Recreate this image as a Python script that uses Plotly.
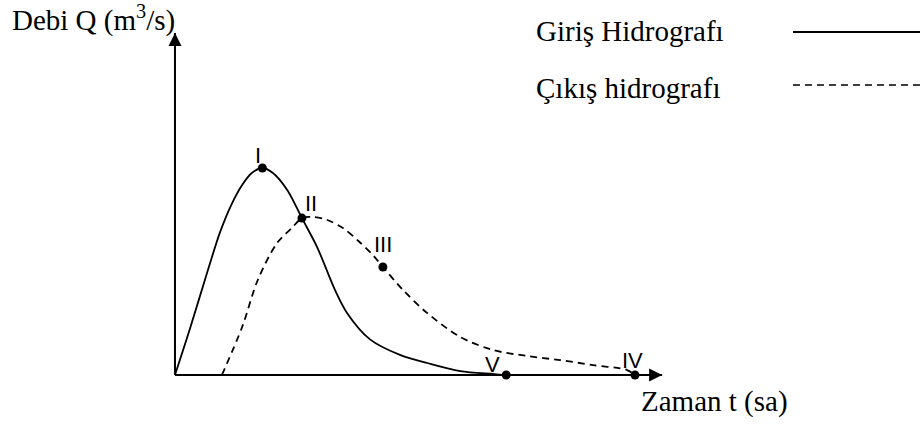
import plotly.graph_objects as go

# Inflow hydrograph (Giriş): time in hours, discharge in m3/s
t_giris = [0, 0.33, 0.65, 0.98, 1.22, 1.46, 1.67, 1.9, 2.13, 2.44, 2.76, 3.09,
           3.48, 3.74, 4.24, 4.89, 5.48, 6.2, 6.91, 7.2, 8.1]
q_giris = [0, 2.27, 4.59, 6.9, 8.2, 9.18, 9.76, 10.0, 9.76, 8.94, 7.58, 6.18,
           4.1, 3.0, 1.72, 0.97, 0.58, 0.19, 0.05, 0, 0]

# Outflow hydrograph (Çıkış)
t_cikis = [1.02, 1.46, 1.8, 2.22, 2.54, 2.76, 3.0, 3.3, 3.65, 4.0, 4.3, 4.52,
           4.96, 5.48, 6.2, 6.91, 7.65, 8.37, 9.09, 9.83, 10.0]
q_cikis = [0, 2.32, 4.59, 6.38, 7.1, 7.58, 7.63, 7.5, 7.1, 6.45, 5.8, 5.22,
           4.1, 3.0, 1.84, 1.21, 0.92, 0.72, 0.48, 0.24, 0]

# Characteristic points
nokta_etiket = ["I", "II", "III", "V", "IV"]
nokta_t = [1.9, 2.76, 4.52, 7.2, 10.0]
nokta_q = [10.0, 7.58, 5.22, 0, 0]

# Axis extents (arrow tips)
t_max = 10.59
q_max = 16.52

SERIF = "Liberation Serif, Times New Roman, serif"
SANS = "Liberation Sans, Arial, sans-serif"
W, H = 920, 425

fig = go.Figure()

# Axes drawn as lines with arrowheads at their ends
fig.add_trace(go.Scatter(
    x=[0, t_max], y=[0, 0], mode="lines",
    line=dict(color="black", width=2), hoverinfo="skip", showlegend=False))
fig.add_trace(go.Scatter(
    x=[0, 0], y=[0, q_max], mode="lines",
    line=dict(color="black", width=2), hoverinfo="skip", showlegend=False))
fig.add_trace(go.Scatter(
    x=[t_max, 0], y=[0, q_max], mode="markers",
    marker=dict(symbol=["arrow-right", "arrow-up"], size=13, color="black",
                line=dict(width=0)),
    hoverinfo="skip", showlegend=False))

fig.add_trace(go.Scatter(
    x=t_giris, y=q_giris, mode="lines",
    line=dict(color="black", width=1.8, shape="spline", smoothing=0.9),
    hoverinfo="skip", showlegend=False))

fig.add_trace(go.Scatter(
    x=t_cikis, y=q_cikis, mode="lines",
    line=dict(color="black", width=1.8, dash="7px,5px", shape="spline", smoothing=0.9),
    hoverinfo="skip", showlegend=False))

fig.add_trace(go.Scatter(
    x=nokta_t, y=nokta_q, mode="markers",
    marker=dict(color="black", size=9),
    hoverinfo="skip", showlegend=False))

# Point labels
offsets = {"I": (-4, 13), "II": (9, 15), "III": (0, 22), "V": (-14, 11), "IV": (-2, 15)}
for lab, tx, qy in zip(nokta_etiket, nokta_t, nokta_q):
    dx, dy = offsets[lab]
    fig.add_annotation(x=tx, y=qy, text=lab, showarrow=False,
                       xshift=dx, yshift=dy,
                       font=dict(family=SANS, size=22, color="black"))

# Axis titles
fig.add_annotation(x=10 / W, y=1 - 19 / H, xref="paper", yref="paper",
                   text="Debi Q (m<sup>3</sup>/s)", showarrow=False,
                   xanchor="left", yanchor="middle",
                   font=dict(family=SERIF, size=29, color="black"))
fig.add_annotation(x=639 / W, y=1 - 401 / H, xref="paper", yref="paper",
                   text="Zaman t (sa)", showarrow=False,
                   xanchor="left", yanchor="middle",
                   font=dict(family=SERIF, size=29, color="black"))

# Legend entries: text followed by a line sample
fig.add_annotation(x=534 / W, y=1 - 31 / H, xref="paper", yref="paper",
                   text="Giriş Hidrografı", showarrow=False,
                   xanchor="left", yanchor="middle",
                   font=dict(family=SERIF, size=29, color="black"))
fig.add_annotation(x=534 / W, y=1 - 88 / H, xref="paper", yref="paper",
                   text="Çıkış hidrografı", showarrow=False,
                   xanchor="left", yanchor="middle",
                   font=dict(family=SERIF, size=29, color="black"))
fig.add_shape(type="line", xref="paper", yref="paper",
              x0=793 / W, x1=1.0, y0=1 - 32 / H, y1=1 - 32 / H,
              line=dict(color="black", width=1.8))
fig.add_shape(type="line", xref="paper", yref="paper",
              x0=793 / W, x1=1.0, y0=1 - 85 / H, y1=1 - 85 / H,
              line=dict(color="black", width=1.5, dash="7px,5px"))

fig.update_layout(
    width=W, height=H,
    margin=dict(l=0, r=0, t=0, b=0),
    paper_bgcolor="white", plot_bgcolor="white",
    xaxis=dict(range=[-3.804, 16.196], visible=False, fixedrange=True),
    yaxis=dict(range=[-2.415, 18.116], visible=False, fixedrange=True),
    showlegend=False,
)

fig.write_html("out.html", config={"displayModeBar": False})
